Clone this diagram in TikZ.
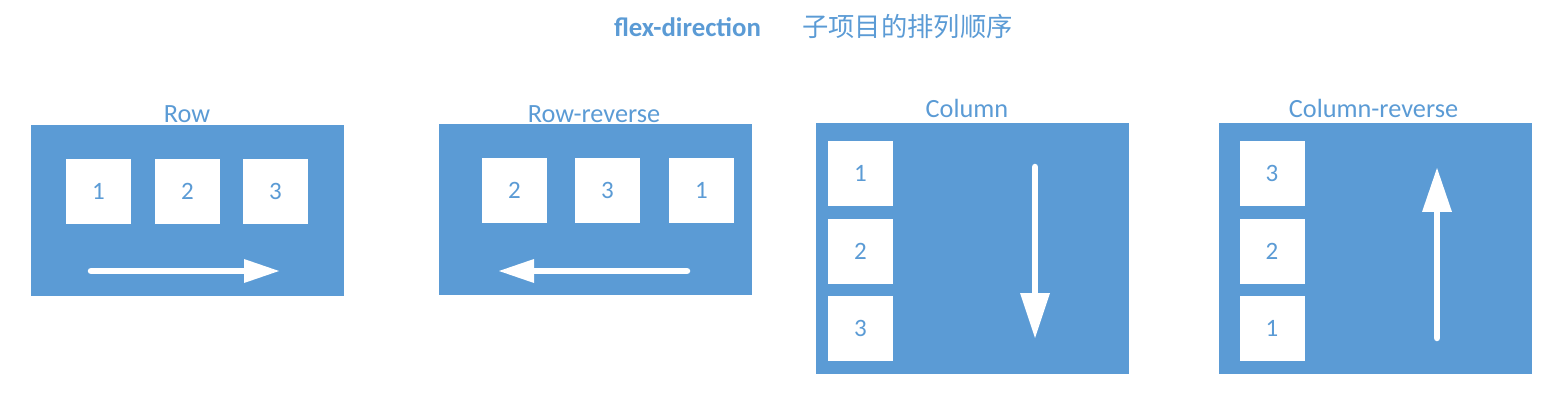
\documentclass[tikz,border=0pt]{standalone}
\usepackage{fontspec}
\setmainfont{Carlito}
\newfontfamily\cjk{Noto Sans CJK SC}
\definecolor{fblue}{HTML}{5B9BD5}
\begin{document}
\begin{tikzpicture}[x=1pt,y=-1pt,
  panel/.style={fill=fblue,draw=none,minimum width=313pt,inner sep=0pt},
  item/.style={fill=white,draw=none,minimum width=65pt,minimum height=65pt,inner sep=0pt,text=fblue,font=\fontsize{25}{28}\selectfont},
  paneltitle/.style={text=fblue,font=\fontsize{26.3}{30}\selectfont,inner sep=0pt},
  shaft/.style={draw=white,line width=6.5pt,line cap=round}]
\useasboundingbox (0,0) rectangle (1561,406);
% title
\node[text=fblue,font=\bfseries\fontsize{26.8}{30}\selectfont,inner sep=0pt] (t1) at (687.5,27) {flex-direction};
\node[text=fblue,font=\cjk\fontsize{26.3}{30}\selectfont,inner sep=0pt] (t2) at (907.5,27) {子项目的排列顺序};
% Row
\node[panel,minimum height=171pt] (p1) at (187.5,210.5) {};
\node[paneltitle] (l1) at (187,114) {Row};
\node[item] (a1) at (98.5,191.5) {1};
\node[item] (a2) at (187.5,191.5) {2};
\node[item] (a3) at (275.5,191.5) {3};
\coordinate (r1s) at (91,271);
\coordinate (r1b) at (244,271);
\coordinate (r1t) at (279,271);
\draw[shaft] (r1s) -- (r1b);
\fill[white] (r1t) -- ([yshift=-12pt]r1b) -- ([yshift=12pt]r1b) -- cycle;
% Row-reverse
\node[panel,minimum height=171pt] (p2) at (595.5,209.5) {};
\node[paneltitle] (l2) at (594,114) {Row-reverse};
\node[item] (b2) at (514.5,190.5) {2};
\node[item] (b3) at (607.5,190.5) {3};
\node[item] (b1) at (701.5,190.5) {1};
\coordinate (r2s) at (687,271);
\coordinate (r2b) at (534,271);
\coordinate (r2t) at (499,271);
\draw[shaft] (r2s) -- (r2b);
\fill[white] (r2t) -- ([yshift=-12pt]r2b) -- ([yshift=12pt]r2b) -- cycle;
% Column
\node[panel,minimum height=251pt] (p3) at (972.5,248.5) {};
\node[paneltitle] (l3) at (967,108) {Column};
\node[item] (c1) at (860.5,173.5) {1};
\node[item] (c2) at (860.5,251.5) {2};
\node[item] (c3) at (860.5,328.5) {3};
\coordinate (r3s) at (1035,167);
\coordinate (r3b) at (1035,293);
\coordinate (r3t) at (1035,338);
\draw[shaft] (r3s) -- (r3b);
\fill[white] (r3t) -- ([xshift=-15pt]r3b) -- ([xshift=15pt]r3b) -- cycle;
% Column-reverse
\node[panel,minimum height=251pt] (p4) at (1375.5,248.5) {};
\node[paneltitle] (l4) at (1373.5,108) {Column-reverse};
\node[item] (d3) at (1272,173.5) {3};
\node[item] (d2) at (1272,251.5) {2};
\node[item] (d1) at (1272,328.5) {1};
\coordinate (r4s) at (1437,338);
\coordinate (r4b) at (1437,212);
\coordinate (r4t) at (1437,168);
\draw[shaft] (r4s) -- (r4b);
\fill[white] (r4t) -- ([xshift=-15pt]r4b) -- ([xshift=15pt]r4b) -- cycle;
\end{tikzpicture}
\end{document}
